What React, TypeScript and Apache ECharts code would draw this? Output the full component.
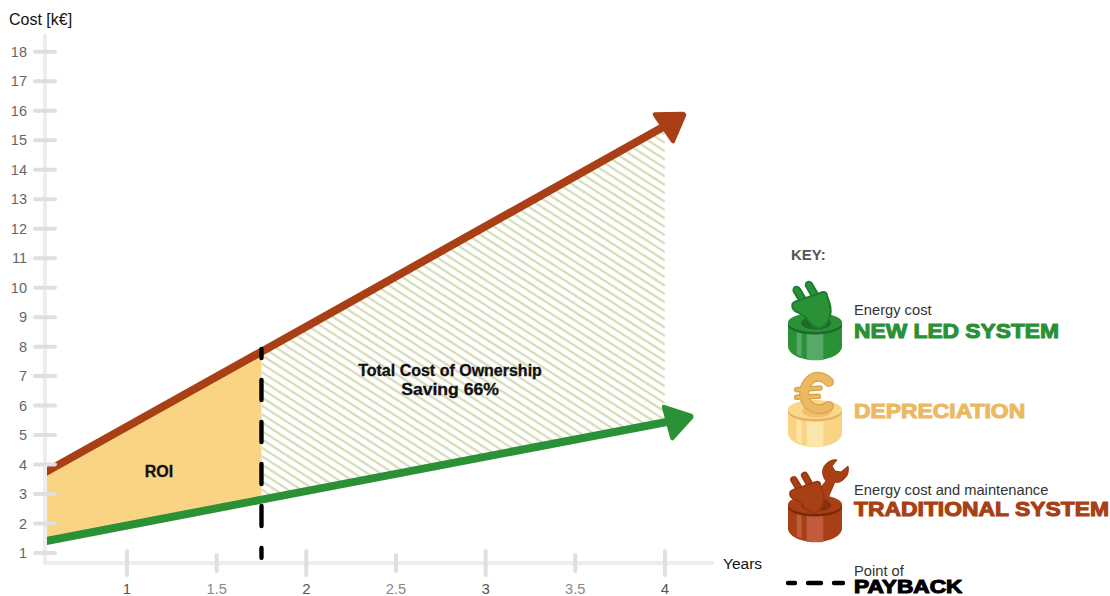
import React, { useEffect, useRef } from "react";
import * as echarts from "echarts";

const yTickValues = [1, 2, 3, 4, 5, 6, 7, 8, 9, 10, 11, 12, 13, 14, 15, 16, 17, 18];
const xMajorValues = [1, 2, 3, 4];
const xMinorValues = [1.5, 2.5, 3.5];
const redLine = [[0.5, 3.59], [1.75, 7.83], [4.05, 15.65]];
const greenLine = [[0.5, 1.35], [1.75, 2.81], [4.083, 5.53]];
const roiRegion = [[0.554, 3.77], [1.75, 7.83], [1.75, 2.81], [0.554, 1.41]];
const savingRegion = [[1.75, 7.83], [4, 15.48], [4, 5.43], [1.75, 2.81]];
const paybackLine = [[1.75, 7.92], [1.75, 0.84]];

const FONT = "'Liberation Sans', Arial, sans-serif";
const X_MIN = 0.5538, X_MAX = 4.2627, Y_MIN = 0.6618, Y_MAX = 18.552;
const GREEN = "#2a9136", RED = "#a83f15", YELLOW = "#fad485";

echarts.graphic.registerShape("cylBody", echarts.graphic.extendPath("M0 9.5 V33 C0 41 12 47 27 47 C42 47 54 41 54 33 V9.5 Z", {}));
echarts.graphic.registerShape("cylStripes", echarts.graphic.extendPath("M8.7 19 L13.7 20 V43.5 L8.7 41.5 Z M18.7 20.5 L35.3 20.5 V47 C30 47.5 24 47.5 18.7 46.5 Z", {}));
echarts.graphic.registerShape("plugBody", echarts.graphic.extendPath("M4.3 -8 C4 -10 8 -12 12 -13 L35 -21 C38 -21 39 -19 39 -17 C42 -10 44 -3 42 3 C40 10 36 15 31 15 C25 15 20 8 17 3.5 L9 -1 C6 -2 4 -5 4.3 -8 Z", {}));
echarts.graphic.registerShape("euroArc", echarts.graphic.extendPath("M41 -18 C36 -24 27 -25 22 -20 C15 -14 14 -2 20 4 C26 11 35 10 41 6", {}));
echarts.graphic.registerShape("wrench", echarts.graphic.extendPath("M28 -2 L38 -14 C34 -19 33 -26 38 -31 C41 -34 45 -36 49 -35 L44 -29 L47 -24 L53 -23 L60 -29 C61 -24 60 -19 56 -16 C53 -13 50 -12 47 -13 L39 5 Z", {}));

function cylinder(base: string, dark: string, light: string, top: string) {
  return [
    { type: "cylBody", style: { fill: base } },
    { type: "cylStripes", style: { fill: light } },
    { type: "ellipse", shape: { cx: 27, cy: 12, rx: 27, ry: 9.5 }, style: { fill: dark } },
    { type: "ellipse", shape: { cx: 27, cy: 9.5, rx: 27, ry: 9.5 }, style: { fill: top } },
  ];
}

function plug(fill: string, dark: string, x = 0, y = 0, s = 1) {
  const prong = (a: number[]) => [
    { type: "line", shape: { x1: a[0], y1: a[1], x2: a[2], y2: a[3] }, style: { stroke: dark, lineWidth: 8.5, lineCap: "round" } },
    { type: "line", shape: { x1: a[0], y1: a[1], x2: a[2], y2: a[3] }, style: { stroke: fill, lineWidth: 5, lineCap: "round" } },
  ];
  return {
    type: "group", x, y, scaleX: s, scaleY: s,
    children: [
      ...prong([8.7, -23, 16.3, -10.3]),
      ...prong([21, -28, 27.7, -16.3]),
      { type: "plugBody", style: { fill, stroke: dark, lineWidth: 2, lineJoin: "round" } },
    ],
  };
}

function label(text: string, x: number, y: number, o: any = {}) {
  return {
    type: "text", x, y, z: 20, scaleX: o.scaleX ?? 1,
    style: {
      text, fill: o.fill ?? "#333", font: `${o.weight ?? "normal"} ${o.size ?? 14.7}px ${FONT}`,
      align: o.align ?? "left", verticalAlign: "middle",
      stroke: o.stroke ? o.fill : undefined, lineWidth: o.stroke ?? 0,
    },
  };
}

function polygonSeries(points: number[][], render: (pts: number[][], api: any) => any, z: number) {
  return {
    type: "custom", coordinateSystem: "cartesian2d", z, silent: true, clip: false,
    data: [points[0]],
    renderItem: (_: any, api: any) => render(points.map((p) => api.coord(p)), api),
  };
}

function hatch(pts: number[][]) {
  const xs = pts.map((p) => p[0]), ys = pts.map((p) => p[1]);
  const x0 = Math.min(...xs), x1 = Math.max(...xs), y0 = Math.min(...ys), y1 = Math.max(...ys);
  const slope = 0.64, gap = 8.4;
  const children: any[] = [];
  for (let c = y0 - (x1 - x0) * slope; c < y1; c += gap) {
    children.push({
      type: "line",
      shape: { x1: x0, y1: c, x2: x1, y2: c + (x1 - x0) * slope },
      style: { stroke: "#d9dfbd", lineWidth: 2.4 },
    });
  }
  return { type: "group", children, clipPath: { type: "polygon", shape: { points: pts } } };
}

function tickSeries(values: number[], horizontal: boolean, half: number) {
  return {
    type: "custom", coordinateSystem: "cartesian2d", z: 3, silent: true, clip: false,
    data: values.map((v) => (horizontal ? [X_MIN, v] : [v, Y_MIN])),
    renderItem: (_: any, api: any) => {
      const p = api.coord([api.value(0), api.value(1)]);
      const shape = horizontal
        ? { x1: p[0] - 2 - half, y1: p[1], x2: p[0] - 2 + half, y2: p[1] }
        : { x1: p[0], y1: p[1] - half, x2: p[0], y2: p[1] + half };
      return { type: "line", shape, style: { stroke: "#dfdfdf", lineWidth: 4, lineCap: "round" } };
    },
  };
}

function bandLine(points: number[][], color: string) {
  return polygonSeries(points, (pts, api) => {
    const left = api.coord([X_MIN, Y_MIN])[0];
    return {
      type: "group",
      children: [{ type: "polyline", shape: { points: pts }, style: { fill: "none", stroke: color, lineWidth: 8 } }],
      clipPath: { type: "rect", shape: { x: left, y: 0, width: 1200, height: 596 } },
    };
  }, 2);
}

function arrowHead(points: number[][], color: string, size: number[], rotate: number) {
  return {
    type: "scatter", z: 2, silent: true, symbol: "triangle", symbolSize: size, symbolRotate: rotate,
    itemStyle: { color, borderColor: color, borderWidth: 5, borderJoin: "round", opacity: 1 },
    data: [points[points.length - 1]],
  };
}

const option: any = {
  animation: false,
  grid: { left: 47, right: 398, top: 35.5, bottom: 31.5, containLabel: false },
  textStyle: { fontFamily: FONT },
  xAxis: {
    type: "value", min: X_MIN, max: X_MAX, splitLine: { show: false }, axisTick: { show: false },
    name: "Years", nameLocation: "end", nameGap: 11,
    nameTextStyle: { color: "#111", fontSize: 15.5, fontFamily: FONT },
    axisLine: { show: true, onZero: false, lineStyle: { color: "#ededed", width: 4, cap: "round" } },
    axisLabel: {
      customValues: [...xMajorValues, ...xMinorValues], margin: 18, hideOverlap: false,
      formatter: (v: number) => (Number.isInteger(v) ? `{a|${v}}` : `{b|${v}}`),
      rich: {
        a: { fontSize: 15, color: "#555", fontFamily: FONT },
        b: { fontSize: 14.6, color: "#888", fontFamily: FONT },
      },
    },
  },
  yAxis: {
    type: "value", min: Y_MIN, max: Y_MAX, offset: 2, splitLine: { show: false }, axisTick: { show: false },
    name: "Cost [k€]", nameLocation: "end", nameGap: 8,
    nameTextStyle: { color: "#111", fontSize: 16, fontFamily: FONT, align: "center", padding: [0, 9, 0, 0] },
    axisLine: { show: true, onZero: false, lineStyle: { color: "#ededed", width: 4, cap: "round" } },
    axisLabel: { customValues: yTickValues, margin: 18, color: "#666", fontSize: 14.5, fontFamily: FONT, hideOverlap: false },
  },
  series: [
    polygonSeries(roiRegion, (pts) => ({ type: "polygon", shape: { points: pts }, style: { fill: YELLOW } }), 1),
    polygonSeries(savingRegion, (pts) => hatch(pts), 1),
    bandLine(redLine, RED),
    bandLine(greenLine, GREEN),
    arrowHead(redLine, RED, [31, 24], -56),
    arrowHead(greenLine, GREEN, [31, 24], -75),
    tickSeries(yTickValues, true, 10),
    tickSeries(xMajorValues, false, 12),
    tickSeries(xMinorValues, false, 8),
    {
      type: "line", z: 4, silent: true, symbol: "none", data: paybackLine,
      lineStyle: { color: "#000", width: 4.4, type: [20, 22], dashOffset: 11, cap: "round" },
    },
  ],
  graphic: [
    label("ROI", 159, 471, { weight: "bold", size: 16, fill: "#111", align: "center", stroke: 0.3 }),
    label("Total Cost of Ownership", 450, 370, { weight: "bold", size: 16, fill: "#111", align: "center", stroke: 0.3 }),
    label("Saving 66%", 450, 390, { weight: "bold", size: 16, fill: "#111", align: "center", scaleX: 1.1, stroke: 0.3 }),
    label("KEY:", 791, 254, { weight: "bold", size: 15, fill: "#555" }),

    { type: "group", x: 788, y: 313, children: [
      ...cylinder(GREEN, "#1d6a2b", "#58a868", GREEN),
      { type: "ellipse", shape: { cx: 28, cy: 10, rx: 15, ry: 6.5 }, style: { fill: "#1d6a2b" } },
      plug(GREEN, "#1d7a2e"),
    ] },
    label("Energy cost", 854, 310),
    label("NEW LED SYSTEM", 854, 330.5, { weight: "bold", size: 21, fill: GREEN, stroke: 1.1, scaleX: 1.085 }),

    { type: "group", x: 788, y: 400, children: [
      ...cylinder(YELLOW, "#e7b362", "#fce6aa", "#fbd78c"),
      { type: "ellipse", shape: { cx: 29, cy: 11, rx: 15, ry: 6.5 }, style: { fill: "#eebf6d" } },
      { type: "euroArc", style: { fill: "none", stroke: "#dba349", lineWidth: 10, lineCap: "round", lineJoin: "round" } },
      { type: "line", shape: { x1: 8.7, y1: -10.3, x2: 32, y2: -12 }, style: { stroke: "#dba349", lineWidth: 5.5, lineCap: "round" } },
      { type: "line", shape: { x1: 8.7, y1: -2.7, x2: 30.3, y2: -3.7 }, style: { stroke: "#dba349", lineWidth: 5.5, lineCap: "round" } },
      { type: "euroArc", style: { fill: "none", stroke: "#ebb962", lineWidth: 7.5, lineCap: "round", lineJoin: "round" } },
      { type: "line", shape: { x1: 8.7, y1: -10.3, x2: 32, y2: -12 }, style: { stroke: "#ebb962", lineWidth: 2.8, lineCap: "round" } },
      { type: "line", shape: { x1: 8.7, y1: -2.7, x2: 30.3, y2: -3.7 }, style: { stroke: "#ebb962", lineWidth: 2.8, lineCap: "round" } },
    ] },
    label("DEPRECIATION", 854, 410.5, { weight: "bold", size: 21, fill: "#ebb962", stroke: 1.1, scaleX: 1.09 }),

    { type: "group", x: 788, y: 495, children: [
      ...cylinder(RED, "#762a0c", "#c05c3b", RED),
      { type: "ellipse", shape: { cx: 28, cy: 10, rx: 15, ry: 6.5 }, style: { fill: "#842f0e" } },
      { type: "wrench", style: { fill: RED, stroke: "#96370f", lineWidth: 1, lineJoin: "round" } },
      plug(RED, "#96370f", -1.66, 4.8, 0.87),
    ] },
    label("Energy cost and maintenance", 854, 490),
    label("TRADITIONAL SYSTEM", 854, 508.5, { weight: "bold", size: 21, fill: RED, stroke: 1.1, scaleX: 1.09 }),

    { type: "line", shape: { x1: 788, y1: 583, x2: 843, y2: 583 },
      style: { stroke: "#000", lineWidth: 4.4, lineCap: "round", lineDash: [13, 13], lineDashOffset: 6 } },
    label("Point of", 854, 570.5),
    label("PAYBACK", 854, 586.5, { weight: "bold", size: 19, fill: "#000", stroke: 1.1, scaleX: 1.195 }),
  ],
};

export default function App() {
  const ref = useRef<HTMLDivElement>(null);
  useEffect(() => {
    const chart = echarts.init(ref.current!, undefined, { renderer: "svg" });
    chart.setOption(option);
    return () => chart.dispose();
  }, []);
  return <div ref={ref} style={{ position: "absolute", left: 0, top: 0, width: 1110, height: 596 }} />;
}
